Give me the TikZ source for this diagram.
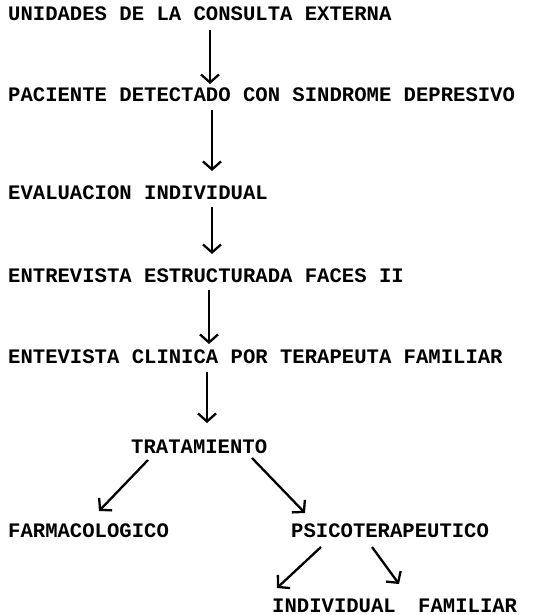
\documentclass[tikz,border=0pt]{standalone}
\usepackage{fontspec}
\setmonofont{Liberation Mono}
\usetikzlibrary{arrows.meta}
\begin{document}
\begin{tikzpicture}[x=1pt,y=-1pt,
  txt/.style={anchor=base west,inner sep=0pt,font=\ttfamily\bfseries\fontsize{20.6}{24}\selectfont},
  arr/.style={line width=2.3pt,-{Straight Barb[length=8pt,width=18pt,line width=2.3pt]}}]
\useasboundingbox[fill=white] (0,0) rectangle (536,615);
\node[txt] (n1) at (8,21) {UNIDADES DE LA CONSULTA EXTERNA};
\node[txt] (n2) at (8,102) {PACIENTE DETECTADO CON SINDROME DEPRESIVO};
\node[txt] (n3) at (8,199) {EVALUACION INDIVIDUAL};
\node[txt] (n4) at (8,282) {ENTREVISTA ESTRUCTURADA FACES II};
\node[txt] (n5) at (8,363) {ENTEVISTA CLINICA POR TERAPEUTA FAMILIAR};
\node[txt] (trat) at (131,453) {TRATAMIENTO};
\node[txt] (farm) at (8,537) {FARMACOLOGICO};
\node[txt] (psico) at (291,537) {PSICOTERAPEUTICO};
\node[txt] (indiv) at (272,612) {INDIVIDUAL};
\node[txt] (famil) at (418,612) {FAMILIAR};
\draw[arr] ([xshift=202pt,yshift=-9pt]n1.base west) -- ([xshift=202pt,yshift=18pt]n2.base west);
\draw[arr] ([xshift=204pt,yshift=-8pt]n2.base west) -- ([xshift=204pt,yshift=28pt]n3.base west);
\draw[arr] ([xshift=204pt,yshift=-8pt]n3.base west) -- ([xshift=204pt,yshift=28pt]n4.base west);
\draw[arr] ([xshift=201pt,yshift=-8pt]n4.base west) -- ([xshift=201pt,yshift=19pt]n5.base west);
\draw[arr] ([xshift=199pt,yshift=-9pt]n5.base west) -- ([xshift=76pt,yshift=30pt]trat.base west);
\draw[arr] ([xshift=17pt,yshift=-7pt]trat.base west) -- ([xshift=91pt,yshift=26pt]farm.base west);
\draw[arr] ([xshift=121pt,yshift=-5pt]trat.base west) -- ([xshift=14pt,yshift=24pt]psico.base west);
\draw[arr] ([xshift=30pt,yshift=-10pt]psico.base west) -- ([xshift=5pt,yshift=24pt]indiv.base west);
\draw[arr] ([xshift=81pt,yshift=-10pt]psico.base west) -- ([xshift=-19pt,yshift=28pt]famil.base west);
\end{tikzpicture}
\end{document}
